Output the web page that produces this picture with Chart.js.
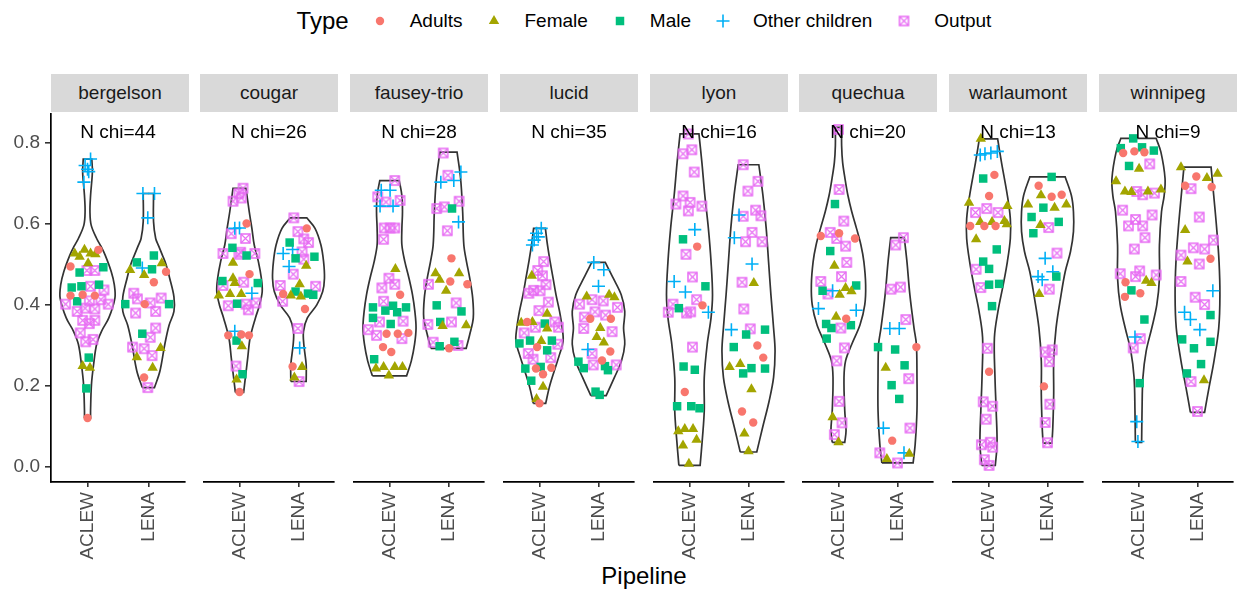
<!DOCTYPE html>
<html>
<head>
<meta charset="utf-8">
<script src="https://cdn.jsdelivr.net/npm/chart.js@4/dist/chart.umd.min.js"></script>
<style>
body{margin:0;background:#fff;width:1238px;height:591px;overflow:hidden;position:relative;font-family:"Liberation Sans",Arial,sans-serif;}
.strip{position:absolute;top:74px;height:38px;background:#d9d9d9;color:#1a1a1a;font-size:19px;line-height:38px;text-align:center;}
canvas.panel{position:absolute;}
#legend{position:absolute;top:0;left:51px;width:1186px;height:42px;display:flex;justify-content:center;align-items:center;color:#000;}
#legend .ltitle{font-size:24px;margin-right:20px;}
#legend .ltext{font-size:19px;margin-left:19px;margin-right:21px;}
#legend .ltext:last-child{margin-right:0;}
#legend canvas{display:block;}
#xtitle{position:absolute;left:51px;width:1186px;top:562px;text-align:center;font-size:24px;color:#000;}
</style>
</head>
<body>
<div id="legend"><span class="ltitle">Type</span></div>
<div id="xtitle">Pipeline</div>
<script>
var sites = ['bergelson','cougar','fausey-trio','lucid','lyon','quechua','warlaumont','winnipeg'];
var nChi = [44,26,28,35,16,20,13,9];
var pipelines = ['ACLEW','LENA'];
var types = ['Adults','Female','Male','Other children','Output'];
var typeColors = ['#F8766D','#A3A500','#00BF7D','#00B0F6','#E76BF3'];
var yTicks = [0.0,0.2,0.4,0.6,0.8];
var yRange = [-0.037,0.871];

// points: [jitter offset from the pipeline position, value]
var bergelsonACLEW = {
  'Adults': [[0.18,0.536],[-0.28,0.495],[-0.28,0.423],[-0.08,0.425],[0.12,0.423],[0.0,0.121]],
  'Female': [[-0.21,0.527],[-0.05,0.536],[0.05,0.527],[0.13,0.525],[-0.13,0.519],[0.01,0.503],[-0.08,0.249],[0.04,0.245]],
  'Male': [[-0.13,0.480],[0.26,0.493],[-0.26,0.443],[-0.10,0.446],[0.19,0.450],[-0.17,0.409],[0.02,0.270],[-0.02,0.194]],
  'Other children': [[0.05,0.760],[-0.04,0.744],[0.0,0.735],[0.02,0.729],[-0.06,0.703]],
  'Output': [[-0.01,0.485],[0.12,0.485],[0.05,0.446],[0.27,0.437],[-0.36,0.402],[0.03,0.410],[0.22,0.413],[0.34,0.402],[-0.17,0.384],[-0.04,0.392],[0.12,0.390],[-0.08,0.362],[0.12,0.362],[0.03,0.354],[-0.12,0.331],[-0.03,0.309],[0.09,0.315]]
};
var bergelsonLENA = {
  'Adults': [[0.29,0.482],[0.09,0.456],[-0.06,0.402],[-0.07,0.221]],
  'Female': [[-0.30,0.486],[-0.07,0.474],[0.22,0.503],[0.20,0.294],[-0.19,0.271],[0.07,0.245]],
  'Male': [[0.09,0.522],[-0.19,0.505],[0.06,0.488],[-0.38,0.402],[0.34,0.402],[-0.10,0.329]],
  'Other children': [[-0.09,0.675],[0.10,0.675],[-0.01,0.615],[-0.10,0.491]],
  'Output': [[-0.24,0.429],[-0.18,0.415],[0.21,0.417],[0.03,0.405],[-0.21,0.380],[0.12,0.384],[0.12,0.343],[0.03,0.320],[-0.26,0.296],[-0.07,0.292],[0.06,0.275],[-0.01,0.196]]
};
var cougarACLEW = {
  'Adults': [[0.12,0.601],[0.17,0.476],[-0.19,0.325],[0.03,0.327],[0.16,0.325],[0.0,0.185]],
  'Female': [[-0.11,0.504],[-0.11,0.466],[-0.08,0.454],[-0.35,0.423],[-0.16,0.427],[0.03,0.427],[0.04,0.298],[-0.05,0.216]],
  'Male': [[-0.12,0.541],[0.12,0.522],[-0.29,0.459],[0.31,0.454],[-0.04,0.403],[-0.05,0.312],[0.05,0.229]],
  'Other children': [[0.0,0.590],[-0.08,0.589],[0.21,0.429],[-0.08,0.335]],
  'Output': [[0.06,0.688],[-0.01,0.675],[-0.11,0.656],[0.03,0.664],[-0.14,0.576],[0.10,0.564],[-0.28,0.527],[-0.01,0.525],[0.26,0.527],[0.02,0.530],[0.07,0.456],[-0.28,0.448],[-0.19,0.398],[0.11,0.402],[0.28,0.405],[0.15,0.388],[-0.06,0.249]]
};
var cougarLENA = {
  'Adults': [[0.14,0.589],[-0.26,0.427],[0.11,0.390],[-0.10,0.248]],
  'Female': [[0.13,0.497],[0.02,0.451],[-0.13,0.423],[0.04,0.421],[0.06,0.247],[-0.07,0.221]],
  'Male': [[-0.15,0.554],[-0.05,0.515],[0.27,0.519],[-0.05,0.433],[0.16,0.428],[0.25,0.425]],
  'Other children': [[-0.26,0.527],[-0.10,0.537],[-0.16,0.495],[0.02,0.294]],
  'Output': [[-0.08,0.615],[-0.01,0.581],[0.09,0.563],[0.17,0.554],[0.06,0.531],[0.09,0.513],[-0.09,0.476],[-0.31,0.448],[-0.27,0.409],[0.29,0.446],[-0.01,0.342],[0.01,0.211]]
};
var fauseyACLEW = {
  'Adults': [[0.18,0.425],[-0.05,0.329],[0.14,0.329],[0.32,0.331],[-0.11,0.296],[0.03,0.284]],
  'Female': [[0.10,0.489],[-0.23,0.243],[-0.10,0.247],[0.09,0.247],[0.22,0.247],[-0.01,0.226]],
  'Male': [[-0.28,0.394],[-0.07,0.386],[0.06,0.398],[0.28,0.394],[0.13,0.382],[-0.28,0.368],[0.02,0.353],[-0.26,0.266]],
  'Other children': [[-0.14,0.683],[0.01,0.683],[-0.16,0.644],[0.06,0.644]],
  'Output': [[0.09,0.707],[-0.20,0.667],[-0.06,0.654],[0.18,0.658],[-0.09,0.590],[0.01,0.590],[0.09,0.590],[-0.10,0.562],[-0.01,0.466],[-0.13,0.442],[0.09,0.451],[-0.10,0.409],[-0.17,0.358],[-0.36,0.339],[-0.22,0.325],[0.23,0.360],[0.21,0.317]]
};
var fauseyLENA = {
  'Adults': [[0.05,0.515],[0.03,0.458],[0.32,0.451],[0.01,0.293]],
  'Female': [[-0.22,0.478],[-0.15,0.462],[0.18,0.478],[-0.04,0.435],[-0.10,0.348],[0.30,0.350]],
  'Male': [[0.06,0.638],[-0.20,0.399],[0.22,0.384],[-0.14,0.358],[-0.15,0.298],[0.10,0.309]],
  'Other children': [[0.21,0.728],[-0.13,0.703],[0.09,0.707],[0.17,0.605]],
  'Output': [[-0.09,0.775],[-0.01,0.720],[0.18,0.656],[-0.20,0.638],[-0.07,0.642],[-0.02,0.583],[-0.34,0.451],[0.13,0.405],[-0.35,0.352],[0.05,0.358],[-0.26,0.308],[0.16,0.300]]
};
var lucidACLEW = {
  'Adults': [[-0.21,0.358],[-0.04,0.296],[-0.06,0.243],[0.06,0.229],[0.20,0.245],[0.0,0.157]],
  'Female': [[-0.13,0.472],[0.13,0.378],[-0.31,0.356],[-0.12,0.358],[0.13,0.342],[0.03,0.311],[0.06,0.198],[-0.05,0.168]],
  'Male': [[0.09,0.354],[-0.34,0.305],[-0.16,0.312],[0.21,0.312],[0.13,0.288],[-0.24,0.243],[0.02,0.247],[-0.14,0.213]],
  'Other children': [[0.03,0.589],[-0.02,0.568],[-0.09,0.560],[-0.12,0.548],[-0.05,0.577]],
  'Output': [[0.07,0.507],[-0.03,0.485],[0.05,0.472],[0.11,0.450],[-0.10,0.436],[-0.18,0.429],[0.01,0.435],[0.15,0.407],[-0.01,0.386],[0.26,0.358],[0.32,0.345],[-0.07,0.345],[-0.26,0.331],[0.31,0.303],[-0.19,0.280],[-0.11,0.266],[0.19,0.270]]
};
var lucidLENA = {
  'Adults': [[-0.14,0.366],[0.21,0.366],[0.20,0.285],[0.06,0.263]],
  'Female': [[-0.20,0.421],[0.18,0.425],[0.27,0.419],[0.03,0.343],[-0.03,0.321],[0.09,0.307]],
  'Male': [[-0.34,0.260],[-0.25,0.244],[0.11,0.249],[0.16,0.239],[-0.05,0.186],[0.02,0.178]],
  'Other children': [[-0.08,0.505],[0.09,0.487],[0.0,0.446],[-0.18,0.290]],
  'Output': [[-0.11,0.413],[0.08,0.410],[-0.32,0.402],[0.32,0.394],[-0.06,0.383],[0.12,0.375],[-0.24,0.370],[-0.25,0.342],[0.23,0.334],[-0.11,0.280],[-0.09,0.252],[0.30,0.252]]
};
var lyonACLEW = {
  'Adults': [[0.13,0.544],[0.22,0.399],[-0.08,0.185]],
  'Female': [[-0.19,0.088],[-0.08,0.094],[0.06,0.094],[-0.11,0.053],[0.12,0.067],[-0.01,0.008]],
  'Male': [[-0.11,0.562],[0.27,0.446],[-0.18,0.392],[-0.10,0.248],[0.09,0.240],[-0.21,0.150],[0.03,0.150],[0.17,0.145]],
  'Other children': [[0.09,0.586],[-0.26,0.458],[-0.07,0.432],[0.32,0.382]],
  'Output': [[-0.02,0.822],[-0.11,0.773],[0.04,0.783],[0.08,0.728],[-0.11,0.669],[0.01,0.653],[-0.23,0.649],[-0.02,0.632],[0.21,0.644],[-0.06,0.525],[0.05,0.469],[0.12,0.413],[-0.28,0.402],[-0.36,0.382],[-0.05,0.380],[0.02,0.383],[0.05,0.296]]
};
var lyonLENA = {
  'Adults': [[0.15,0.300],[0.25,0.270],[-0.11,0.137],[0.08,0.110]],
  'Female': [[0.09,0.454],[-0.32,0.247],[-0.14,0.254],[0.05,0.192],[-0.07,0.083],[0.0,0.039]],
  'Male': [[-0.04,0.327],[0.28,0.339],[-0.25,0.296],[0.05,0.244],[-0.09,0.231],[0.28,0.243]],
  'Other children': [[-0.16,0.622],[-0.24,0.566],[0.06,0.501],[-0.29,0.339]],
  'Output': [[-0.09,0.746],[0.16,0.705],[-0.01,0.681],[0.12,0.634],[0.21,0.620],[-0.09,0.619],[0.06,0.579],[-0.05,0.556],[0.23,0.556],[-0.11,0.456],[-0.08,0.390],[0.03,0.341]]
};
var quechuaACLEW = {
  'Adults': [[-0.30,0.570],[0.01,0.577],[0.28,0.564],[0.13,0.366]],
  'Female': [[-0.07,0.497],[0.12,0.442],[0.02,0.425],[0.22,0.434],[-0.04,0.371],[-0.10,0.123],[0.0,0.061]],
  'Male': [[-0.06,0.649],[-0.14,0.533],[0.30,0.448],[-0.27,0.435],[-0.21,0.353],[-0.12,0.343],[0.21,0.350],[-0.20,0.317]],
  'Other children': [[-0.10,0.435],[-0.34,0.391],[0.30,0.387]],
  'Output': [[0.0,0.833],[0.01,0.685],[0.09,0.607],[-0.14,0.579],[-0.03,0.564],[0.12,0.545],[0.14,0.505],[0.05,0.470],[-0.30,0.458],[-0.18,0.427],[0.04,0.343],[0.10,0.294],[-0.03,0.262],[0.01,0.162],[0.06,0.109],[-0.07,0.080]]
};
var quechuaLENA = {
  'Adults': [[0.32,0.296],[-0.09,0.065]],
  'Female': [[-0.20,0.245],[-0.18,0.020],[0.20,0.033]],
  'Male': [[-0.33,0.296],[-0.04,0.290],[0.12,0.251],[-0.10,0.202],[0.03,0.168]],
  'Other children': [[-0.13,0.342],[0.03,0.342],[-0.24,0.096],[0.11,0.035]],
  'Output': [[0.10,0.566],[-0.03,0.548],[-0.11,0.439],[0.05,0.444],[0.14,0.364],[0.19,0.218],[0.21,0.096],[-0.30,0.035],[0.0,0.010]]
};
var warlaumontACLEW = {
  'Adults': [[0.10,0.721],[0.01,0.669],[-0.31,0.595],[-0.07,0.595],[0.12,0.595],[0.01,0.235]],
  'Female': [[-0.13,0.810],[-0.33,0.652],[0.32,0.644],[-0.14,0.605],[0.06,0.605],[0.27,0.607],[0.31,0.599],[-0.21,0.562]],
  'Male': [[-0.09,0.712],[0.14,0.537],[-0.09,0.507],[0.01,0.489],[0.01,0.450],[0.18,0.452],[0.06,0.397]],
  'Other children': [[-0.14,0.770],[-0.06,0.773],[0.04,0.775],[0.15,0.779]],
  'Output': [[-0.22,0.628],[-0.03,0.638],[0.16,0.628],[-0.21,0.488],[-0.13,0.443],[-0.02,0.293],[-0.09,0.161],[0.07,0.150],[-0.04,0.118],[-0.12,0.055],[0.03,0.061],[0.07,0.049],[-0.07,0.018],[0.01,0.004]]
};
var warlaumontLENA = {
  'Adults': [[-0.15,0.694],[0.07,0.667],[0.24,0.672],[-0.06,0.199]],
  'Female': [[-0.11,0.671],[-0.33,0.648],[0.12,0.640],[0.32,0.648],[-0.12,0.597],[-0.14,0.427]],
  'Male': [[0.07,0.716],[-0.07,0.640],[-0.27,0.617],[0.19,0.605],[-0.24,0.577],[0.15,0.470]],
  'Other children': [[-0.04,0.515],[0.09,0.482],[-0.16,0.470],[-0.09,0.462]],
  'Output': [[0.02,0.591],[0.16,0.528],[0.03,0.439],[-0.04,0.284],[0.08,0.289],[0.03,0.260],[0.04,0.155],[-0.04,0.110],[0.0,0.060]]
};
var winnipegACLEW = {
  'Adults': [[-0.26,0.775],[-0.07,0.779],[0.10,0.777],[-0.22,0.456],[-0.23,0.420],[0.03,0.429]],
  'Female': [[0.01,0.736],[-0.38,0.705],[-0.23,0.680],[-0.12,0.679],[0.16,0.680],[0.38,0.685],[0.13,0.460],[0.22,0.454]],
  'Male': [[-0.09,0.811],[-0.30,0.787],[0.06,0.789],[0.26,0.781],[-0.16,0.743],[-0.12,0.436],[0.10,0.364],[0.02,0.207]],
  'Other children': [[-0.06,0.321],[-0.03,0.112],[-0.01,0.063]],
  'Output': [[0.19,0.748],[-0.03,0.680],[0.07,0.672],[0.27,0.676],[-0.27,0.634],[-0.05,0.611],[-0.17,0.595],[0.07,0.595],[0.23,0.622],[0.11,0.566],[-0.07,0.538],[0.02,0.484],[-0.31,0.477],[-0.05,0.470],[0.30,0.474],[0.03,0.317],[-0.09,0.294]]
};
var winnipegLENA = {
  'Adults': [[-0.02,0.717],[-0.21,0.694],[0.24,0.691],[0.22,0.514]],
  'Female': [[-0.28,0.740],[0.16,0.713],[0.34,0.724],[-0.21,0.585],[-0.17,0.507],[0.11,0.214]],
  'Male': [[0.22,0.375],[-0.26,0.315],[-0.06,0.293],[0.22,0.309],[0.06,0.254],[-0.18,0.231]],
  'Other children': [[0.26,0.435],[-0.22,0.382],[-0.12,0.364],[0.04,0.339]],
  'Output': [[-0.11,0.687],[0.03,0.617],[0.27,0.560],[-0.07,0.541],[0.12,0.538],[-0.28,0.523],[0.03,0.501],[-0.28,0.458],[-0.04,0.419],[0.12,0.401],[-0.11,0.211],[0.0,0.137]]
};

// violin outlines: [value, half width]
var bergelsonACLEWViolin = [[0.121,0.05],[0.14,0.05],[0.204,0.065],[0.253,0.10],[0.303,0.15],[0.335,0.23],[0.368,0.35],[0.417,0.45],[0.45,0.44],[0.482,0.39],[0.523,0.29],[0.545,0.22],[0.564,0.15],[0.597,0.06],[0.63,0.04],[0.67,0.05],[0.728,0.08],[0.76,0.07]];
var bergelsonLENAViolin = [[0.196,0.10],[0.237,0.19],[0.303,0.27],[0.35,0.34],[0.384,0.42],[0.42,0.42],[0.466,0.35],[0.50,0.29],[0.523,0.23],[0.545,0.17],[0.564,0.12],[0.605,0.085],[0.675,0.085]];
var cougarACLEWViolin = [[0.184,0.07],[0.221,0.10],[0.27,0.14],[0.319,0.18],[0.368,0.27],[0.40,0.34],[0.433,0.385],[0.466,0.37],[0.507,0.32],[0.548,0.25],[0.589,0.21],[0.63,0.165],[0.688,0.11]];
var cougarLENAViolin = [[0.211,0.13],[0.253,0.13],[0.303,0.09],[0.335,0.085],[0.368,0.15],[0.40,0.31],[0.433,0.41],[0.466,0.44],[0.507,0.425],[0.548,0.38],[0.589,0.28],[0.615,0.14]];
var fauseyACLEWViolin = [[0.225,0.29],[0.262,0.37],[0.303,0.425],[0.343,0.45],[0.384,0.43],[0.425,0.39],[0.466,0.33],[0.507,0.26],[0.548,0.21],[0.589,0.21],[0.63,0.22],[0.67,0.21],[0.707,0.165]];
var fauseyLENAViolin = [[0.293,0.30],[0.327,0.36],[0.368,0.42],[0.417,0.41],[0.466,0.36],[0.507,0.305],[0.548,0.26],[0.63,0.24],[0.712,0.205],[0.777,0.145]];
var lucidACLEWViolin = [[0.157,0.105],[0.196,0.165],[0.237,0.25],[0.278,0.34],[0.31,0.40],[0.343,0.385],[0.384,0.34],[0.425,0.28],[0.466,0.23],[0.507,0.18],[0.548,0.135],[0.589,0.10]];
var lucidLENAViolin = [[0.176,0.13],[0.221,0.27],[0.262,0.39],[0.303,0.445],[0.343,0.425],[0.384,0.445],[0.425,0.385],[0.466,0.25],[0.505,0.115]];
var lyonACLEWViolin = [[0.004,0.18],[0.073,0.22],[0.139,0.25],[0.221,0.25],[0.303,0.30],[0.368,0.365],[0.425,0.39],[0.507,0.365],[0.589,0.32],[0.67,0.26],[0.752,0.21],[0.822,0.16]];
var lyonLENAViolin = [[0.037,0.14],[0.098,0.24],[0.163,0.35],[0.221,0.425],[0.286,0.45],[0.343,0.425],[0.425,0.38],[0.507,0.34],[0.589,0.30],[0.67,0.245],[0.746,0.175]];
var quechuaACLEWViolin = [[0.061,0.106],[0.09,0.128],[0.139,0.106],[0.221,0.093],[0.262,0.12],[0.303,0.225],[0.351,0.365],[0.40,0.445],[0.45,0.46],[0.507,0.43],[0.548,0.38],[0.589,0.305],[0.63,0.225],[0.67,0.16],[0.712,0.11],[0.752,0.07],[0.793,0.053],[0.838,0.053]];
var quechuaLENAViolin = [[0.010,0.265],[0.057,0.30],[0.139,0.33],[0.221,0.33],[0.303,0.32],[0.343,0.28],[0.425,0.21],[0.507,0.16],[0.566,0.115]];
var warlaumontACLEWViolin = [[0.004,0.115],[0.057,0.145],[0.139,0.13],[0.221,0.11],[0.319,0.10],[0.384,0.16],[0.45,0.25],[0.507,0.32],[0.564,0.37],[0.613,0.37],[0.67,0.32],[0.752,0.22],[0.81,0.155]];
var warlaumontLENAViolin = [[0.059,0.075],[0.098,0.09],[0.18,0.105],[0.262,0.105],[0.343,0.145],[0.425,0.23],[0.482,0.30],[0.532,0.39],[0.581,0.44],[0.63,0.44],[0.67,0.405],[0.716,0.30]];
var winnipegACLEWViolin = [[0.061,0.053],[0.139,0.06],[0.221,0.075],[0.286,0.13],[0.343,0.225],[0.40,0.31],[0.466,0.355],[0.548,0.355],[0.63,0.39],[0.67,0.435],[0.712,0.45],[0.777,0.38],[0.811,0.30]];
var winnipegLENAViolin = [[0.135,0.12],[0.196,0.195],[0.262,0.28],[0.343,0.36],[0.425,0.38],[0.507,0.365],[0.589,0.325],[0.67,0.275],[0.740,0.23]];

var sitePoints = [[bergelsonACLEW,bergelsonLENA],[cougarACLEW,cougarLENA],[fauseyACLEW,fauseyLENA],[lucidACLEW,lucidLENA],
  [lyonACLEW,lyonLENA],[quechuaACLEW,quechuaLENA],[warlaumontACLEW,warlaumontLENA],[winnipegACLEW,winnipegLENA]];
var siteViolins = [[bergelsonACLEWViolin,bergelsonLENAViolin],[cougarACLEWViolin,cougarLENAViolin],[fauseyACLEWViolin,fauseyLENAViolin],
  [lucidACLEWViolin,lucidLENAViolin],[lyonACLEWViolin,lyonLENAViolin],[quechuaACLEWViolin,quechuaLENAViolin],
  [warlaumontACLEWViolin,warlaumontLENAViolin],[winnipegACLEWViolin,winnipegLENAViolin]];

var FONT = '"Liberation Sans", Arial, sans-serif';
Chart.defaults.font.family = FONT;

// layout of the facets
var PANEL_LEFT0 = 50.7, PANEL_STEP = 149.7, PANEL_W = 138, PANEL_TOP = 112, PANEL_H = 370;
var CANVAS_TOP = 106, CANVAS_H = 485;

function makeOutputIcon() {
  var c = document.createElement('canvas');
  c.width = 13; c.height = 13;
  var g = c.getContext('2d');
  g.strokeStyle = typeColors[4];
  g.lineWidth = 1.5;
  g.strokeRect(2,2,9,9);
  g.lineWidth = 1.1;
  g.beginPath();
  g.moveTo(2,2); g.lineTo(11,11);
  g.moveTo(11,2); g.lineTo(2,11);
  g.stroke();
  return c;
}
var outputIcon = makeOutputIcon();

function pointStyleFor(t) {
  var c = typeColors[t];
  if (t == 0) return {pointStyle:'circle', pointRadius:4.2, backgroundColor:c, borderColor:c, borderWidth:0};
  if (t == 1) return {pointStyle:'triangle', pointRadius:6, backgroundColor:c, borderColor:c, borderWidth:0};
  if (t == 2) return {pointStyle:'rect', pointRadius:6, backgroundColor:c, borderColor:c, borderWidth:0};
  if (t == 3) return {pointStyle:'cross', pointRadius:6.5, backgroundColor:c, borderColor:c, borderWidth:1.6};
  return {pointStyle:outputIcon, pointRadius:6.5, backgroundColor:c, borderColor:c, borderWidth:0};
}

function violinPath(pos, outline) {
  var n = outline.length;
  var pts = [];
  var b = outline[0], t = outline[n-1];
  // corners doubled so the curve keeps them sharp
  pts.push({x:pos-b[1], y:b[0]});
  pts.push({x:pos+b[1], y:b[0]});
  pts.push({x:pos+b[1], y:b[0]});
  for (var k=1;k<n-1;k++) pts.push({x:pos+outline[k][1], y:outline[k][0]});
  pts.push({x:pos+t[1], y:t[0]});
  pts.push({x:pos+t[1], y:t[0]});
  pts.push({x:pos-t[1], y:t[0]});
  pts.push({x:pos-t[1], y:t[0]});
  for (var k=n-2;k>=1;k--) pts.push({x:pos-outline[k][1], y:outline[k][0]});
  pts.push({x:pos-b[1], y:b[0]});
  pts.push({x:pos-b[1], y:b[0]});
  return pts;
}

var nChiLabel = {
  id: 'nChiLabel',
  afterDatasetsDraw: function(chart, args, opts) {
    var ctx = chart.ctx;
    ctx.save();
    ctx.font = '19px ' + FONT;
    ctx.fillStyle = '#000';
    ctx.textAlign = 'center';
    ctx.textBaseline = 'middle';
    ctx.fillText('N chi=' + opts.n, chart.scales.x.getPixelForValue(1.5), chart.scales.y.getPixelForValue(0.826));
    ctx.restore();
  }
};

for (var i=0;i<sites.length;i++) {
  var left = Math.round(PANEL_LEFT0 + PANEL_STEP*i);

  var strip = document.createElement('div');
  strip.className = 'strip';
  strip.style.left = left + 'px';
  strip.style.width = PANEL_W + 'px';
  strip.textContent = sites[i];
  document.body.appendChild(strip);

  var first = (i == 0);
  var canvasLeft = first ? 0 : left - 4;
  var canvasW = first ? left + PANEL_W + 4 : PANEL_W + 8;
  var cv = document.createElement('canvas');
  cv.className = 'panel';
  cv.width = canvasW; cv.height = CANVAS_H;
  cv.style.left = canvasLeft + 'px';
  cv.style.top = CANVAS_TOP + 'px';
  cv.style.width = canvasW + 'px';
  cv.style.height = CANVAS_H + 'px';
  document.body.appendChild(cv);

  var datasets = [];
  for (var t=0;t<types.length;t++) {
    var data = [];
    for (var p=0;p<pipelines.length;p++) {
      var arr = sitePoints[i][p][types[t]];
      for (var k=0;k<arr.length;k++) data.push({x:p+1+arr[k][0], y:arr[k][1]});
    }
    var ds = pointStyleFor(t);
    ds.label = types[t];
    ds.data = data;
    ds.order = 0;
    ds.clip = false;
    datasets.push(ds);
  }
  for (var p=0;p<pipelines.length;p++) {
    datasets.push({
      label: 'violin ' + pipelines[p],
      data: violinPath(p+1, siteViolins[i][p]),
      showLine: true,
      pointRadius: 0,
      borderColor: '#333333',
      borderWidth: 1.7,
      tension: 0.35,
      fill: false,
      order: 1,
      clip: false
    });
  }

  var bottomH = CANVAS_H - (PANEL_TOP - CANVAS_TOP) - PANEL_H;
  var yScale = {
    type: 'linear', min: yRange[0], max: yRange[1], display: first,
    afterBuildTicks: function(s) { s.ticks = yTicks.map(function(v){ return {value:v}; }); },
    ticks: {padding:5, color:'#4d4d4d', font:{size:19}, callback: function(v) { return v.toFixed(1); }},
    grid: {drawOnChartArea:false, drawTicks:true, tickLength:6, tickColor:'#333333', tickWidth:1.6, lineWidth:1.6, color:'#333333'},
    border: {display:true, color:'#000', width:1.7}
  };
  if (first) {
    // fixed axis width, and no extra room for half labels at the ends
    yScale.afterFit = (function(w){ return function(s){ s.width = w; s.paddingTop = 0; s.paddingBottom = 0; }; })(left);
  }
  new Chart(cv, {
    type: 'scatter',
    data: {datasets: datasets},
    plugins: [nChiLabel],
    options: {
      responsive: false,
      animation: false,
      devicePixelRatio: 1,
      layout: {padding: {left: first ? 0 : 4, right: 4, top: PANEL_TOP - CANVAS_TOP, bottom: 0}},
      plugins: {legend: {display:false}, tooltip: {enabled:false}, nChiLabel: {n: nChi[i]}},
      scales: {
        x: {
          type: 'linear', min: 0.4, max: 2.6,
          afterBuildTicks: function(s) { s.ticks = [{value:1},{value:2}]; },
          afterFit: (function(h){ return function(s){ s.height = h; s.paddingLeft = 0; s.paddingRight = 0; }; })(bottomH),
          ticks: {autoSkip:false, minRotation:90, maxRotation:90, padding:5, color:'#4d4d4d', font:{size:19},
            callback: function(v) { return pipelines[v-1]; }},
          grid: {drawOnChartArea:false, drawTicks:true, tickLength:5, tickColor:'#333333', tickWidth:1.6, lineWidth:1.6, color:'#333333'},
          border: {display:true, color:'#000', width:1.7}
        },
        y: yScale
      }
    }
  });
}

// legend
function drawKey(g, t, cx, cy) {
  var c = typeColors[t];
  g.fillStyle = c; g.strokeStyle = c;
  if (t == 0) { g.beginPath(); g.arc(cx, cy, 4.2, 0, Math.PI*2); g.fill(); }
  else if (t == 1) {
    var r = 6;
    g.beginPath();
    g.moveTo(cx, cy - r);
    g.lineTo(cx + r*Math.sin(2*Math.PI/3), cy - r*Math.cos(2*Math.PI/3));
    g.lineTo(cx + r*Math.sin(4*Math.PI/3), cy - r*Math.cos(4*Math.PI/3));
    g.closePath(); g.fill();
  }
  else if (t == 2) { var s = 6*Math.SQRT1_2; g.fillRect(cx-s, cy-s, 2*s, 2*s); }
  else if (t == 3) {
    g.lineWidth = 1.6; g.beginPath();
    g.moveTo(cx-6.5, cy); g.lineTo(cx+6.5, cy); g.moveTo(cx, cy-6.5); g.lineTo(cx, cy+6.5); g.stroke();
  }
  else { g.drawImage(outputIcon, cx-6.5, cy-6.5); }
}
var legend = document.getElementById('legend');
for (var t=0;t<types.length;t++) {
  var kc = document.createElement('canvas');
  kc.width = 22; kc.height = 22;
  drawKey(kc.getContext('2d'), t, 11, 11);
  legend.appendChild(kc);
  var sp = document.createElement('span');
  sp.className = 'ltext';
  sp.textContent = types[t];
  legend.appendChild(sp);
}
</script>
</body>
</html>
